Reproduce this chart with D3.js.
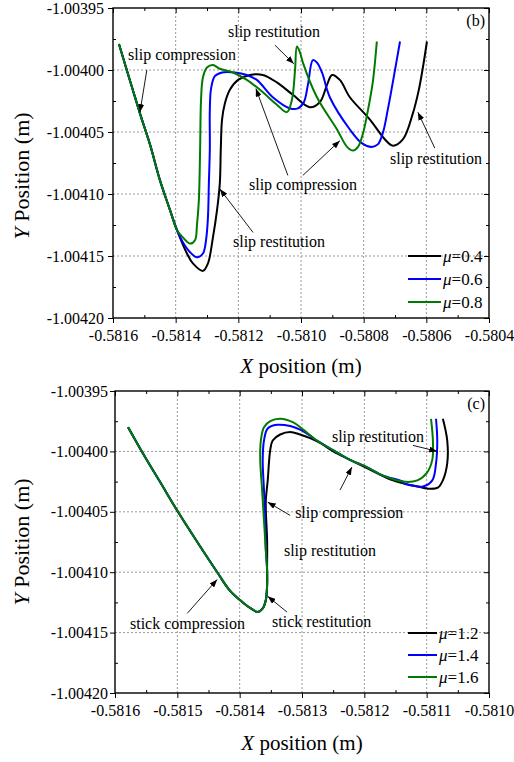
<!DOCTYPE html>
<html>
<head>
<meta charset="utf-8">
<script src="https://cdn.jsdelivr.net/npm/d3@7"></script>
<style>
  body { margin: 0; background: #fff; }
  svg text { font-family: "Liberation Serif", "DejaVu Serif", serif !important; }
</style>
</head>
<body>
<svg id="chart" width="514" height="762" font-family="Liberation Serif"></svg>
<script>
// ---------- data: panel (b) ----------
const bXTicks = [-0.5816, -0.5814, -0.5812, -0.5810, -0.5808, -0.5806, -0.5804];
const bYTicks = [-1.00395, -1.00400, -1.00405, -1.00410, -1.00415, -1.00420];

// descending branch shared by all three friction values
const bShared = [
  [-0.581581, -1.003979], [-0.581514, -1.004035], [-0.581482, -1.004060],
  [-0.581450, -1.004089], [-0.581418, -1.004113], [-0.581396, -1.004129]
];
const bMu04 = [
  [-0.581364, -1.004148], [-0.581345, -1.004156], [-0.581313, -1.004162],
  [-0.581297, -1.004156], [-0.581281, -1.004135], [-0.581268, -1.004113],
  [-0.581259, -1.004091], [-0.581256, -1.004064], [-0.581252, -1.004040],
  [-0.581243, -1.004027], [-0.581227, -1.004016], [-0.581201, -1.004008],
  [-0.581163, -1.004004], [-0.581122, -1.004004], [-0.581077, -1.004010],
  [-0.581026, -1.004020], [-0.580972, -1.004030], [-0.580940, -1.004026],
  [-0.580917, -1.004012], [-0.580901, -1.004004], [-0.580876, -1.004008],
  [-0.580844, -1.004022], [-0.580780, -1.004040], [-0.580732, -1.004056],
  [-0.580707, -1.004061], [-0.580675, -1.004056], [-0.580643, -1.004035],
  [-0.580624, -1.004016], [-0.580611, -1.003998], [-0.580598, -1.003977]
];
const bMu06 = [
  [-0.581377, -1.004139], [-0.581354, -1.004147], [-0.581332, -1.004151],
  [-0.581313, -1.004148], [-0.581303, -1.004137], [-0.581297, -1.004119],
  [-0.581294, -1.004091], [-0.581291, -1.004064], [-0.581291, -1.004032],
  [-0.581287, -1.004015], [-0.581275, -1.004005], [-0.581252, -1.004002],
  [-0.581211, -1.004002], [-0.581173, -1.004004], [-0.581141, -1.004008],
  [-0.581090, -1.004022], [-0.581035, -1.004031], [-0.581010, -1.004031],
  [-0.580991, -1.004026], [-0.580978, -1.004012], [-0.580962, -1.003992],
  [-0.580949, -1.003994], [-0.580933, -1.004002], [-0.580908, -1.004022],
  [-0.580844, -1.004048], [-0.580806, -1.004059], [-0.580774, -1.004062],
  [-0.580755, -1.004060], [-0.580739, -1.004051], [-0.580723, -1.004032],
  [-0.580707, -1.004010], [-0.580684, -1.003977]
];
const bMu08 = [
  [-0.581377, -1.004135], [-0.581354, -1.004140], [-0.581338, -1.004137],
  [-0.581332, -1.004125], [-0.581326, -1.004105], [-0.581322, -1.004064],
  [-0.581319, -1.004024], [-0.581313, -1.004006], [-0.581300, -1.003998],
  [-0.581281, -1.003996], [-0.581259, -1.003999], [-0.581217, -1.004002],
  [-0.581173, -1.004008], [-0.581131, -1.004016], [-0.581077, -1.004028],
  [-0.581045, -1.004034], [-0.581029, -1.004024], [-0.581019, -1.004000],
  [-0.581013, -1.003981], [-0.581003, -1.003986], [-0.580994, -1.003994],
  [-0.580949, -1.004022], [-0.580885, -1.004048], [-0.580853, -1.004062],
  [-0.580834, -1.004065], [-0.580818, -1.004062], [-0.580802, -1.004051],
  [-0.580786, -1.004032], [-0.580771, -1.004010], [-0.580758, -1.003977]
];
const bLabels = ["\u03bc=0.4", "\u03bc=0.6", "\u03bc=0.8"];

// annotations: [x, y, text]  and arrows: [x1, y1, x2, y2]
const bNotes = [
  [-0.581552, -1.003992, "slip compression"],
  [-0.581233, -1.003973, "slip restitution"],
  [-0.581166, -1.004097, "slip compression"],
  [-0.580716, -1.004076, "slip restitution"],
  [-0.581217, -1.004143, "slip restitution"]
];
const bArrows = [
  [-0.581492, -1.004000, -0.581514, -1.004034],
  [-0.581083, -1.003980, -0.581023, -1.003995],
  [-0.581042, -1.004085, -0.581144, -1.004015],
  [-0.580994, -1.004085, -0.580876, -1.004057],
  [-0.580573, -1.004063, -0.580627, -1.004034],
  [-0.581153, -1.004131, -0.581259, -1.004096]
];

// ---------- data: panel (c) ----------
const cXTicks = [-0.5816, -0.5815, -0.5814, -0.5813, -0.5812, -0.5811, -0.5810];
const cYTicks = [-1.00395, -1.00400, -1.00405, -1.00410, -1.00415, -1.00420];

const cShared = [
  [-0.581579, -1.003980], [-0.581557, -1.004000], [-0.581528, -1.004025],
  [-0.581499, -1.004050], [-0.581468, -1.004075], [-0.581436, -1.004100],
  [-0.581416, -1.004115], [-0.581395, -1.004125], [-0.581379, -1.004131],
  [-0.581371, -1.004133], [-0.581363, -1.004130], [-0.581358, -1.004123],
  [-0.581356, -1.004111], [-0.581356, -1.004098]
];
const cMiddle = [
  [-0.581276, -1.003991], [-0.581250, -1.003999], [-0.581223, -1.004007],
  [-0.581196, -1.004013], [-0.581170, -1.004020], [-0.581138, -1.004025]
];
const cMu12 = [
  [-0.581356, -1.004073], [-0.581358, -1.004049], [-0.581358, -1.004040],
  [-0.581355, -1.004024], [-0.581351, -1.003999], [-0.581347, -1.003991],
  [-0.581335, -1.003986], [-0.581319, -1.003984], [-0.581303, -1.003986],
  [-0.581287, -1.003989], [-0.581271, -1.003993], [-0.581250, -1.004000],
  [-0.581223, -1.004007], [-0.581191, -1.004015], [-0.581154, -1.004024],
  [-0.581115, -1.004029], [-0.581095, -1.004031], [-0.581082, -1.004030],
  [-0.581074, -1.004024], [-0.581067, -1.004010], [-0.581067, -1.003991],
  [-0.581074, -1.003973]
];
const cMu14Head = [
  [-0.581358, -1.004082], [-0.581359, -1.004057], [-0.581361, -1.004032],
  [-0.581363, -1.004007], [-0.581361, -1.003991], [-0.581355, -1.003981],
  [-0.581340, -1.003978], [-0.581319, -1.003979], [-0.581303, -1.003982],
  [-0.581287, -1.003987]
];
const cMu14Tail = [
  [-0.581138, -1.004026], [-0.581106, -1.004029], [-0.581091, -1.004024],
  [-0.581085, -1.004010], [-0.581083, -1.003991], [-0.581085, -1.003973]
];
const cMu16Head = [
  [-0.581358, -1.004082], [-0.581361, -1.004057], [-0.581364, -1.004032],
  [-0.581367, -1.004007], [-0.581366, -1.003991], [-0.581361, -1.003980],
  [-0.581351, -1.003975], [-0.581335, -1.003973], [-0.581314, -1.003976],
  [-0.581298, -1.003982]
];
const cMu16Tail = [
  [-0.581115, -1.004024], [-0.581100, -1.004018], [-0.581091, -1.004007],
  [-0.581090, -1.003991], [-0.581093, -1.003973]
];
const cLabels = ["\u03bc=1.2", "\u03bc=1.4", "\u03bc=1.6"];

const cNotes = [
  [-0.581252, -1.003992, "slip restitution"],
  [-0.581311, -1.004055, "slip compression"],
  [-0.581329, -1.004087, "slip restitution"],
  [-0.581576, -1.004147, "stick compression"],
  [-0.581348, -1.004145, "stick restitution"]
];
const cArrows = [
  [-0.581122, -1.003995, -0.581083, -1.004000],
  [-0.581239, -1.004032, -0.581220, -1.004013],
  [-0.581319, -1.004053, -0.581355, -1.004042],
  [-0.581484, -1.004134, -0.581436, -1.004106],
  [-0.581324, -1.004133, -0.581355, -1.004120]
];

const colors = ["#000000", "#0000ff", "#007a00"];
const serif = "Liberation Serif";

const svg = d3.select("#chart");
svg.append("rect").attr("width", 514).attr("height", 762).attr("fill", "#fff");

svg.append("defs").append("marker")
    .attr("id", "arrow")
    .attr("viewBox", "0 -3 8 6")
    .attr("refX", 8).attr("refY", 0)
    .attr("markerUnits", "userSpaceOnUse")
    .attr("markerWidth", 8).attr("markerHeight", 6)
    .attr("orient", "auto")
  .append("path")
    .attr("d", "M0,-3L8,0L0,3Z")
    .attr("fill", "#000");

function drawPanel(p) {
    const x = d3.scaleLinear().domain([p.xTicks[0], p.xTicks[p.xTicks.length - 1]]).range([p.left, p.right]);
    const y = d3.scaleLinear().domain([p.yTicks[p.yTicks.length - 1], p.yTicks[0]]).range([p.bottom, p.top]);
    const g = svg.append("g").attr("font-family", serif);
    const xMinor = d3.pairs(p.xTicks).map(d => (d[0] + d[1]) / 2);
    const yMinor = d3.pairs(p.yTicks).map(d => (d[0] + d[1]) / 2);

    // grid
    g.selectAll(".gx").data(p.xTicks.slice(1, -1)).join("line")
        .attr("x1", d => x(d)).attr("x2", d => x(d))
        .attr("y1", p.top).attr("y2", p.bottom)
        .attr("stroke", "#999").attr("stroke-width", 1).attr("stroke-dasharray", "2,2");
    g.selectAll(".gy").data(p.yTicks.slice(1, -1)).join("line")
        .attr("y1", d => y(d)).attr("y2", d => y(d))
        .attr("x1", p.left).attr("x2", p.right)
        .attr("stroke", "#999").attr("stroke-width", 1).attr("stroke-dasharray", "2,2");

    // curves
    const line = d3.line().x(d => x(d[0])).y(d => y(d[1])).curve(d3.curveCatmullRom.alpha(0.5));
    p.series.forEach((s, i) => {
        g.append("path").datum(s)
            .attr("d", line)
            .attr("fill", "none")
            .attr("stroke", colors[i])
            .attr("stroke-width", 2);
    });

    // axes
    const styleAxis = sel => {
        sel.attr("font-family", serif);
        sel.select(".domain").remove();
        sel.selectAll("line").attr("stroke", "#000").attr("stroke-width", 1);
        sel.selectAll("text").attr("font-size", "16px").attr("fill", "#000")
            .attr("font-family", serif);
    };
    g.append("g").attr("transform", `translate(0,${p.bottom})`)
        .call(d3.axisBottom(x).tickValues(p.xTicks).tickSize(5).tickPadding(p.xPad).tickFormat(d => d.toFixed(4)))
        .call(styleAxis);
    g.append("g").attr("transform", `translate(0,${p.bottom})`)
        .call(d3.axisBottom(x).tickValues(xMinor).tickSize(-3).tickFormat(""))
        .call(styleAxis);
    g.append("g").attr("transform", `translate(${p.left},0)`)
        .call(d3.axisLeft(y).tickValues(p.yTicks).tickSize(5).tickPadding(p.yPad).tickFormat(d => d.toFixed(5)))
        .call(styleAxis);
    g.append("g").attr("transform", `translate(${p.left},0)`)
        .call(d3.axisLeft(y).tickValues(yMinor).tickSize(-3).tickFormat(""))
        .call(styleAxis);
    g.append("g").attr("transform", `translate(0,${p.top})`)
        .call(d3.axisTop(x).tickValues(p.xTicks).tickSize(-5).tickFormat(""))
        .call(styleAxis);
    g.append("g").attr("transform", `translate(0,${p.top})`)
        .call(d3.axisTop(x).tickValues(xMinor).tickSize(-3).tickFormat(""))
        .call(styleAxis);
    g.append("g").attr("transform", `translate(${p.right},0)`)
        .call(d3.axisRight(y).tickValues(p.yTicks).tickSize(-5).tickFormat(""))
        .call(styleAxis);
    g.append("g").attr("transform", `translate(${p.right},0)`)
        .call(d3.axisRight(y).tickValues(yMinor).tickSize(-3).tickFormat(""))
        .call(styleAxis);

    g.append("rect")
        .attr("x", p.left).attr("y", p.top)
        .attr("width", p.right - p.left).attr("height", p.bottom - p.top)
        .attr("fill", "none").attr("stroke", "#000").attr("stroke-width", 1.4);

    // annotations
    g.selectAll(".note").data(p.notes).join("text")
        .attr("x", d => x(d[0])).attr("y", d => y(d[1]))
        .attr("font-size", "16px")
        .text(d => d[2]);
    g.selectAll(".arr").data(p.arrows).join("line")
        .attr("x1", d => x(d[0])).attr("y1", d => y(d[1]))
        .attr("x2", d => x(d[2])).attr("y2", d => y(d[3]))
        .attr("stroke", "#000").attr("stroke-width", 0.9)
        .attr("marker-end", "url(#arrow)");

    // panel tag
    g.append("text").attr("x", p.right - 4).attr("y", p.top + 18)
        .attr("text-anchor", "end").attr("font-size", "16px").text(p.tag);

    // legend
    p.labels.forEach((lab, i) => {
        const ly = p.legendY + i * p.legendGap;
        g.append("line")
            .attr("x1", p.legendX).attr("x2", p.legendX + p.legendLen)
            .attr("y1", ly).attr("y2", ly)
            .attr("stroke", colors[i]).attr("stroke-width", 2);
        const t = g.append("text")
            .attr("x", p.legendX + p.legendLen + 2).attr("y", ly + 6)
            .attr("font-size", "17px");
        t.append("tspan").attr("font-style", "italic").text(lab.slice(0, 1));
        t.append("tspan").text(lab.slice(1));
    });

    // axis titles
    const xt = g.append("text")
        .attr("x", (p.left + p.right) / 2).attr("y", p.xTitleY)
        .attr("text-anchor", "middle").attr("font-size", "21px");
    xt.append("tspan").attr("font-style", "italic").text("X");
    xt.append("tspan").text(" position (m)");
    const yt = g.append("text")
        .attr("transform", `translate(29,${p.yTitleC}) rotate(-90)`)
        .attr("text-anchor", "middle").attr("font-size", "22px");
    yt.append("tspan").attr("font-style", "italic").text("Y");
    yt.append("tspan").text(" Position (m)");
}

drawPanel({
    xTicks: bXTicks, yTicks: bYTicks,
    left: 113, right: 489, top: 8, bottom: 318,
    xPad: 7, yPad: 4,
    series: [bShared.concat(bMu04), bShared.concat(bMu06), bShared.concat(bMu08)],
    notes: bNotes, arrows: bArrows, labels: bLabels, tag: "(b)",
    legendX: 408, legendLen: 33, legendY: 256, legendGap: 23,
    xTitleY: 373, yTitleC: 176
});

drawPanel({
    xTicks: cXTicks, yTicks: cYTicks,
    left: 115, right: 489, top: 391, bottom: 693,
    xPad: 7, yPad: 2,
    series: [
        cShared.concat(cMu12),
        cShared.concat(cMu14Head, cMiddle, cMu14Tail),
        cShared.concat(cMu16Head, cMiddle, cMu16Tail)
    ],
    notes: cNotes, arrows: cArrows, labels: cLabels, tag: "(c)",
    legendX: 408, legendLen: 29, legendY: 633, legendGap: 22,
    xTitleY: 750, yTitleC: 542
});
</script>
</body>
</html>
